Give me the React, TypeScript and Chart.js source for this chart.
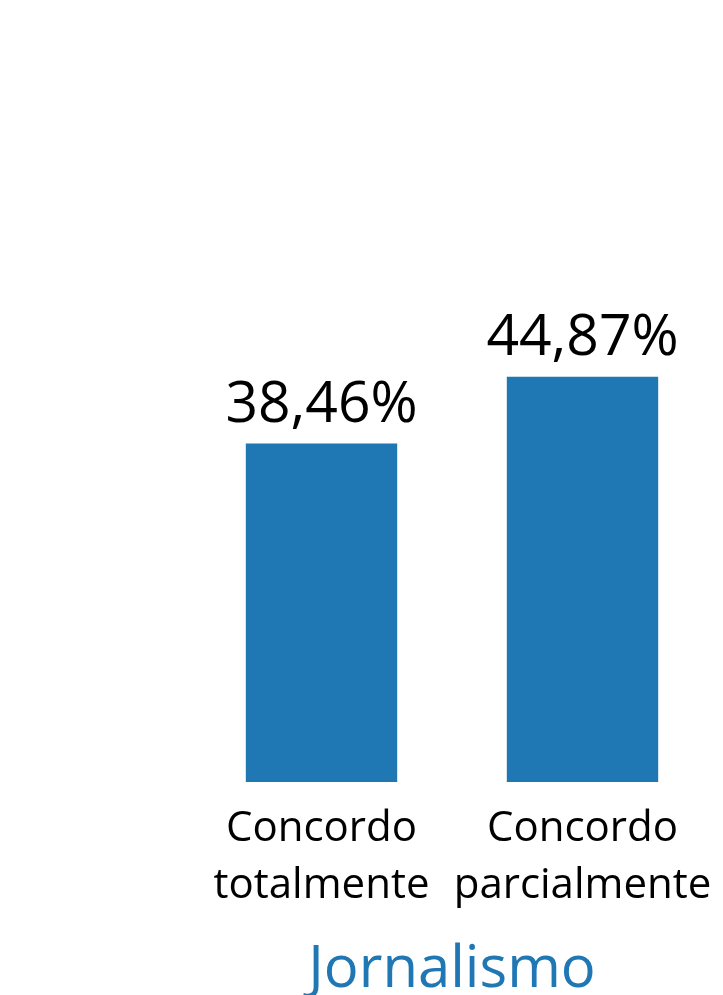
import React, { useEffect, useRef } from "react";
import { Chart, registerables } from "chart.js";

Chart.register(...registerables);

const categories: string[][] = [["Concordo", "totalmente"], ["Concordo", "parcialmente"]];
const values: number[] = [38.46, 44.87];
const groupTitle = "Jornalismo";
const barColor = "#1f77b4";
const FONT = "'Open Sans', 'Noto Sans', sans-serif";

const valueLabelPlugin = {
  id: "valueLabels",
  afterDatasetsDraw(chart: any) {
    const ctx = chart.ctx;
    const meta = chart.getDatasetMeta(0);
    ctx.save();
    ctx.font = `57px ${FONT}`;
    ctx.fillStyle = "#000";
    ctx.textAlign = "center";
    ctx.textBaseline = "alphabetic";
    meta.data.forEach((bar: any, i: number) => {
      const txt = values[i].toFixed(2).replace(".", ",") + "%";
      ctx.fillText(txt, bar.x, bar.y - 22);
    });
    ctx.restore();
  },
};

export default function App() {
  const ref = useRef<HTMLCanvasElement | null>(null);
  useEffect(() => {
    document.body.style.margin = "0";
    const chart = new Chart(ref.current as HTMLCanvasElement, {
      type: "bar",
      data: {
        labels: categories,
        datasets: [
          {
            data: values,
            backgroundColor: barColor,
            barPercentage: 0.58,
            categoryPercentage: 1,
          },
        ],
      },
      options: {
        animation: false,
        responsive: true,
        maintainAspectRatio: false,
        layout: { padding: { left: 191, right: 10, top: 0, bottom: 0 } },
        plugins: { legend: { display: false }, tooltip: { enabled: false } },
        scales: {
          x: {
            grid: { display: false, drawTicks: false },
            border: { display: false },
            afterFit: (scale: any) => {
              scale.paddingLeft = 0;
              scale.paddingRight = 0;
            },
            ticks: {
              color: "#000",
              padding: 19,
              font: { family: FONT, size: 42, lineHeight: 1.357 },
              maxRotation: 0,
              autoSkip: false,
            },
            title: {
              display: true,
              text: groupTitle,
              color: barColor,
              font: { family: FONT, size: 58, lineHeight: 0.862 },
              padding: { top: 11, bottom: 0 },
            },
          },
          y: { display: false, min: 6, max: 81 },
        },
      },
      plugins: [valueLabelPlugin],
    });
    return () => chart.destroy();
  }, []);
  return (
    <div style={{ position: "relative", width: 723, height: 995, background: "#fff" }}>
      <canvas ref={ref} />
    </div>
  );
}
